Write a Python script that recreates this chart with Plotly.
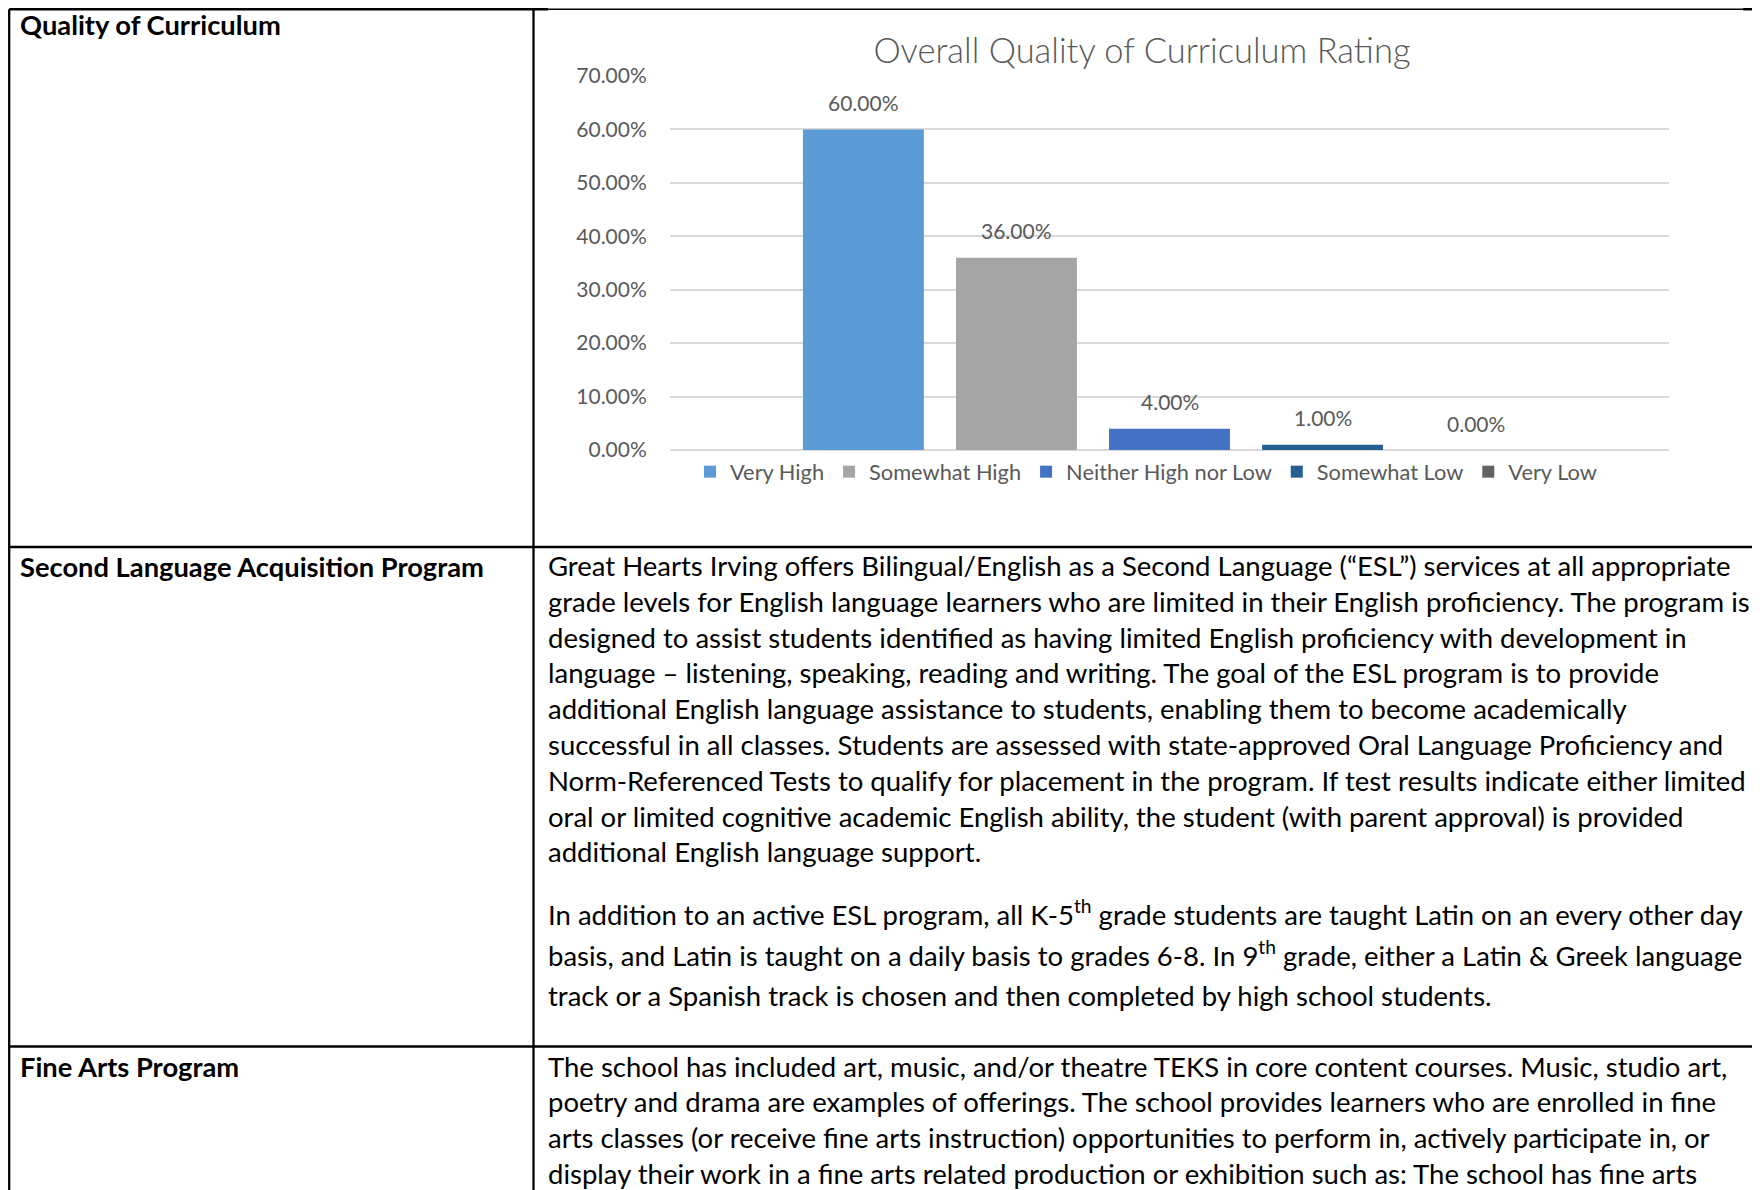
import plotly.graph_objects as go

W, H = 1760, 1190

# ---------------- data ----------------
chart_title = "Overall Quality of Curriculum Rating"
categories = ["Overall Quality of Curriculum Rating"]
series_names = ["Very High", "Somewhat High", "Neither High nor Low", "Somewhat Low", "Very Low"]
series_values = [0.60, 0.36, 0.04, 0.01, 0.00]
series_colors = ["#5B9BD5", "#A5A5A5", "#4472C4", "#255E91", "#636363"]
y_tick_values = [0.0, 0.1, 0.2, 0.3, 0.4, 0.5, 0.6, 0.7]
y_tick_labels = ["0.00%", "10.00%", "20.00%", "30.00%", "40.00%", "50.00%", "60.00%", "70.00%"]

row_labels = ["Quality of Curriculum", "Second Language Acquisition Program", "Fine Arts Program"]

esl_lines = [
    "Great Hearts Irving offers Bilingual/English as a Second Language (\u201cESL\u201d) services at all appropriate",
    "grade levels for English language learners who are limited in their English proficiency. The program is",
    "designed to assist students identified as having limited English proficiency with development in",
    "language \u2013 listening, speaking, reading and writing. The goal of the ESL program is to provide",
    "additional English language assistance to students, enabling them to become academically",
    "successful in all classes. Students are assessed with state-approved Oral Language Proficiency and",
    "Norm-Referenced Tests to qualify for placement in the program. If test results indicate either limited",
    "oral or limited cognitive academic English ability, the student (with parent approval) is provided",
    "additional English language support.",
]
latin_lines = [
    "In addition to an active ESL program, all K-5<sup>th</sup> grade students are taught Latin on an every other day",
    "basis, and Latin is taught on a daily basis to grades 6-8. In 9<sup>th</sup> grade, either a Latin &amp; Greek language",
    "track or a Spanish track is chosen and then completed by high school students.",
]
arts_lines = [
    "The school has included art, music, and/or theatre TEKS in core content courses. Music, studio art,",
    "poetry and drama are examples of offerings. The school provides learners who are enrolled in fine",
    "arts classes (or receive fine arts instruction) opportunities to perform in, actively participate in, or",
    "display their work in a fine arts related production or exhibition such as: The school has fine arts",
]

# ---------------- helpers / style ----------------
OFF = 8  # page body margin in the browser

def px(x):
    return (x - OFF) / W

def py(y):
    return 1 - (y - OFF) / H

CHART_FONT = "Lato"
BODY_FONT = "Lato"
GRAY = "#595959"
BODY_SIZE = 27.5
LABEL_SIZE = 27.3
CHART_SIZE = 21
LEGEND_SIZE = 21.8

BARGAP = 0.234
BARGROUPGAP = 0.21

fig = go.Figure()

for name, val, col in zip(series_names, series_values, series_colors):
    fig.add_trace(go.Bar(
        x=categories, y=[val], name=name,
        marker=dict(color=col, line=dict(width=0)),
        hoverinfo="skip",
    ))

annotations = []

# data labels above bars (positioned through the x category index)
n = len(series_names)
group_w = 1 - BARGAP
slot = group_w / n
for i, val in enumerate(series_values):
    xc = -group_w / 2 + slot * (i + 0.5)
    annotations.append(dict(
        x=xc, y=val, xref="x", yref="y", text=f"{val:.2%}", showarrow=False,
        xanchor="center", yanchor="middle", yshift=27,
        font=dict(family=CHART_FONT, size=CHART_SIZE, color=GRAY),
    ))

# table row labels
label_y = [25, 566, 1066]
for lab, yy in zip(row_labels, label_y):
    annotations.append(dict(
        x=px(18), y=py(yy), xref="paper", yref="paper", text=f"<b>{lab}</b>",
        showarrow=False, xanchor="left", yanchor="middle",
        font=dict(family=BODY_FONT, size=LABEL_SIZE, color="#000000"),
    ))

def add_lines(lines, y0, step):
    for k, t in enumerate(lines):
        annotations.append(dict(
            x=px(546), y=py(y0 + k * step), xref="paper", yref="paper", text=t,
            showarrow=False, xanchor="left", yanchor="middle",
            font=dict(family=BODY_FONT, size=BODY_SIZE, color="#000000"),
        ))

add_lines(esl_lines, 565.5, 35.8)
add_lines(latin_lines, 912.5, 41.5)
add_lines(arts_lines, 1066, 35.7)

# table borders
shapes = []
def hline(x0, x1, y, w):
    shapes.append(dict(type="line", xref="paper", yref="paper", x0=px(x0), x1=px(x1),
                       y0=py(y), y1=py(y), line=dict(color="#000000", width=w)))
def vline(x, y0, y1, w):
    shapes.append(dict(type="line", xref="paper", yref="paper", x0=px(x), x1=px(x),
                       y0=py(y0), y1=py(y1), line=dict(color="#000000", width=w)))

TOP = OFF + 1.2
LEFT = OFF + 1.2
hline(LEFT, 548, TOP, 2.5)
hline(548, 1743, TOP, 1.5)
hline(1743, 1770, TOP, 2.5)
vline(LEFT, TOP, 1200, 2.3)
vline(533.5, TOP, 1200, 2.3)
hline(LEFT, 1770, 547, 2.5)
hline(LEFT, 1770, 1046.5, 2.5)

fig.update_layout(
    width=W, height=H, autosize=False,
    margin=dict(l=0, r=0, t=0, b=0, pad=0, autoexpand=False),
    paper_bgcolor="white", plot_bgcolor="white",
    barmode="group", bargap=BARGAP, bargroupgap=BARGROUPGAP,
    title=dict(text=chart_title, x=px(1142), xanchor="center", y=py(51), yanchor="middle",
               font=dict(family=CHART_FONT, size=34.5, color=GRAY, weight=300)),
    xaxis=dict(domain=[px(670), px(1669)], type="category", range=[-0.5, 0.5],
               showticklabels=False, showgrid=False, zeroline=False, showline=False, ticks="",
               automargin=False),
    yaxis=dict(domain=[py(450), py(76)], range=[0, 0.7], tickmode="array",
               tickvals=y_tick_values, ticktext=y_tick_labels,
               showgrid=True, gridcolor="#D9D9D9", gridwidth=1.5,
               zeroline=True, zerolinecolor="#D9D9D9", zerolinewidth=1.5, showline=False,
               ticks="outside", ticklen=18, tickcolor="rgba(0,0,0,0)", automargin=False,
               tickfont=dict(family=CHART_FONT, size=CHART_SIZE, color=GRAY)),
    legend=dict(orientation="h", x=px(1146), xanchor="center", y=py(472), yanchor="middle",
                font=dict(family=CHART_FONT, size=LEGEND_SIZE, color=GRAY),
                bgcolor="rgba(0,0,0,0)", itemwidth=30, traceorder="normal"),
    showlegend=True,
    annotations=annotations,
    shapes=shapes,
)

fig.write_html("out.html")
